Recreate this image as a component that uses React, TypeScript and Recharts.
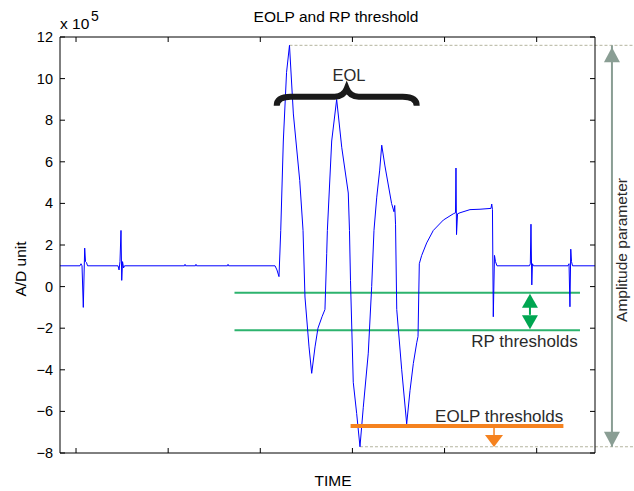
import React from "react";
import { ComposedChart, Line, XAxis, YAxis, ReferenceLine, ReferenceDot } from "recharts";

const FONT = "'Liberation Sans', Arial, Helvetica, sans-serif";
const BLUE = "#0000ff";
const GREEN_LINE = "#2db36e";
const GREEN_ARROW = "#00a651";
const ORANGE = "#f5821f";
const GRAY_ARROW = "#8a9e94";
const DASH = "#b5b59f";

// time (sample) and A/D value (x 10^5)
const TIME = [
  -17.4, 4.3, 5.4, 6.5, 7.9, 9.4, 10.3, 11.4, 12.5,
  45.6, 46.7, 47.7, 48.8, 49.6, 50.5, 51.6, 52.6,
  117.8, 118.3, 118.8, 129.7, 130.2, 130.7, 164.5, 165.0, 165.5,
  216.0, 218.1, 220.3, 222.2, 225.0, 228.5, 231.7, 235.9, 242.8, 246.4,
  248.5, 252.9, 255.8, 259.4, 262.6, 267.0, 270.2, 272.1, 272.8, 277.5,
  282.9, 288.4, 295.5, 296.8, 297.9, 300.9, 304.6, 308.2, 311.8, 317.2,
  320.9, 323.4, 326.4, 329.6, 331.8, 335.3, 342.5, 345.1, 345.9, 346.8,
  348.1, 353.5, 358.9, 362.5, 366.1, 369.8, 371.2, 372.6, 375.2, 380.6,
  387.8, 398.7, 409.5, 411.9, 412.4, 413.0, 414.1, 416.8, 427.6, 438.5,
  450.4, 451.2, 452.0, 452.9, 454.2, 455.3, 456.9,
  492.2, 493.1, 493.8, 494.7, 495.4, 496.5,
  534.0, 535.1, 536.1, 537.0, 537.8, 538.9, 563.3,
];
const SIGNAL = [
  1.0, 1.0, 1.1, 1.0, -1.0, 1.85, 1.2, 1.15, 1.0,
  1.0, 0.8, 1.2, 2.7, 0.3, 1.2, 0.9, 1.0,
  1.0, 1.07, 1.0, 1.0, 1.07, 1.0, 1.0, 1.07, 1.0,
  1.0, 0.8, 0.48, 2.7, 7.0, 10.3, 11.6, 8.3, 5.1, 2.7,
  -0.5, -2.9, -4.17, -2.9, -2.0, -1.45, -1.1, 1.6, 2.7, 7.0,
  9.0, 6.7, 4.5, 2.7, 0.3, -4.6, -6.1, -7.7, -5.8, -3.2,
  0.0, 2.7, 4.3, 5.6, 6.8, 5.8, 4.0, 3.6, 3.9, 3.0,
  -1.1, -4.0, -6.6, -5.0, -3.7, -2.7, -2.4, 1.1, 1.5, 2.1,
  2.7, 3.2, 3.5, 3.55, 5.7, 2.5, 3.5, 3.55, 3.7, 3.72,
  3.76, 3.97, 3.7, -1.45, 1.5, 1.2, 1.0,
  1.0, 1.1, 3.0, 0.08, 1.1, 1.0,
  1.0, 1.1, -0.97, 1.8, 1.2, 1.0, 1.0,
];

const X_TICKS = [0, 100, 200, 300, 400, 500];
const Y_TICKS = [-8, -6, -4, -2, 0, 2, 4, 6, 8, 10, 12];
const X_DOMAIN = [-17.4, 563.3];
const Y_DOMAIN = [-8, 12];

// thresholds
const RP_UPPER = -0.3;
const RP_LOWER = -2.1;
const RP_START = 172;
const RP_END = 547;
const EOLP_LEVEL = -6.7;
const EOLP_START = 298;
const EOLP_END = 529;
const RP_ARROW_T = 492.7;
const EOLP_ARROW_T = 453.7;
const AMP_T = 581.7;
const DASH_END = 605.6;

const data = TIME.map((t, i) => ({ t, v: SIGNAL[i] }));
const maxIdx = SIGNAL.indexOf(Math.max(...SIGNAL));
const minIdx = SIGNAL.indexOf(Math.min(...SIGNAL));
const MAX_V = SIGNAL[maxIdx];
const MIN_V = SIGNAL[minIdx];

const fmt = (v: number) => (v < 0 ? `\u2212${Math.abs(v)}` : `${v}`);

const LeftTick = (p: any) => (
  <g>
    <line x1={p.x} y1={p.y} x2={p.x + 5} y2={p.y} stroke="#000" />
    <text x={p.x - 7} y={p.y + 5} textAnchor="end" fontSize={14.5} fontFamily={FONT} fill="#000">
      {fmt(p.payload.value)}
    </text>
  </g>
);
const RightTick = (p: any) => <line x1={p.x} y1={p.y} x2={p.x - 5} y2={p.y} stroke="#000" />;
const BottomTick = (p: any) => <line x1={p.x} y1={p.y} x2={p.x} y2={p.y - 5} stroke="#000" />;
const TopTick = (p: any) => <line x1={p.x} y1={p.y} x2={p.x} y2={p.y + 5} stroke="#000" />;

const TriUp = ({ cx, cy, color, w = 8, h = 15 }: any) => (
  <path d={`M${cx},${cy} L${cx + w},${cy + h} L${cx - w},${cy + h} Z`} fill={color} />
);
const TriDown = ({ cx, cy, color, w = 8, h = 15 }: any) => (
  <path d={`M${cx},${cy} L${cx + w},${cy - h} L${cx - w},${cy - h} Z`} fill={color} />
);

const Label = ({ cx, cy, text, anchor = "middle", size = 17, rotate = 0 }: any) => (
  <text
    x={cx}
    y={cy}
    textAnchor={anchor}
    fontSize={size}
    fontFamily={FONT}
    fill="#2a2a2a"
    transform={rotate ? `rotate(${rotate} ${cx} ${cy})` : undefined}
    dominantBaseline={rotate ? "central" : undefined}
  >
    {text}
  </text>
);

const Brace = ({ cx, cy }: any) => (
  <path
    d={`M${cx - 70},${cy + 9} C${cx - 70},${cy + 2} ${cx - 64},${cy} ${cx - 56},${cy} L${cx - 12},${cy} C${cx - 5},${cy} ${cx - 2},${cy - 3} ${cx},${cy - 8} C${cx + 2},${cy - 3} ${cx + 5},${cy} ${cx + 12},${cy} L${cx + 56},${cy} C${cx + 64},${cy} ${cx + 70},${cy + 2} ${cx + 70},${cy + 9}`}
    fill="none"
    stroke="#1a1a1a"
    strokeWidth={6}
  />
);

const ids = { xAxisId: "b", yAxisId: "l" } as const;

export default function App() {
  return (
    <div style={{ position: "absolute", left: 0, top: 0, width: 634, height: 491, background: "#fff" }}>
      <ComposedChart width={634} height={491} data={data} margin={{ top: 0, right: 0, bottom: 0, left: 0 }}>
        <XAxis xAxisId="b" dataKey="t" type="number" domain={X_DOMAIN} ticks={X_TICKS} allowDataOverflow
          orientation="bottom" height={38} tickSize={0} tickMargin={0} tickLine={false} tick={<BottomTick />}
          axisLine={{ stroke: "#000" }} />
        <XAxis xAxisId="top" dataKey="t" type="number" domain={X_DOMAIN} ticks={X_TICKS} allowDataOverflow
          orientation="top" height={37} tickSize={0} tickMargin={0} tickLine={false} tick={<TopTick />}
          axisLine={{ stroke: "#000" }} />
        <YAxis yAxisId="l" type="number" domain={Y_DOMAIN} ticks={Y_TICKS} allowDataOverflow width={60}
          tickSize={0} tickMargin={0} tickLine={false} tick={<LeftTick />} axisLine={{ stroke: "#000" }} />
        <YAxis yAxisId="r" orientation="right" type="number" domain={Y_DOMAIN} ticks={Y_TICKS} allowDataOverflow
          width={39} tickSize={0} tickMargin={0} tickLine={false} tick={<RightTick />} axisLine={{ stroke: "#000" }} />

        {/* amplitude dashed guides */}
        <ReferenceLine {...ids} ifOverflow="visible" stroke={DASH} strokeDasharray="3 2"
          segment={[{ x: TIME[maxIdx], y: MAX_V }, { x: DASH_END, y: MAX_V }]} />
        <ReferenceLine {...ids} ifOverflow="visible" stroke={DASH} strokeDasharray="3 2"
          segment={[{ x: TIME[minIdx], y: MIN_V }, { x: DASH_END, y: MIN_V }]} />

        {/* thresholds */}
        <ReferenceLine {...ids} stroke={GREEN_LINE} strokeWidth={2}
          segment={[{ x: RP_START, y: RP_UPPER }, { x: RP_END, y: RP_UPPER }]} />
        <ReferenceLine {...ids} stroke={GREEN_LINE} strokeWidth={2}
          segment={[{ x: RP_START, y: RP_LOWER }, { x: RP_END, y: RP_LOWER }]} />

        <Line {...ids} type="linear" dataKey="v" stroke={BLUE} strokeWidth={1} dot={false} isAnimationActive={false} />

        <ReferenceLine {...ids} stroke={ORANGE} strokeWidth={4}
          segment={[{ x: EOLP_START, y: EOLP_LEVEL }, { x: EOLP_END, y: EOLP_LEVEL }]} />

        {/* RP double arrow */}
        <ReferenceDot {...ids} x={RP_ARROW_T} y={RP_UPPER} r={0}
          shape={(p: any) => (
            <g>
              <line x1={p.cx} y1={p.cy + 14} x2={p.cx} y2={p.cy + 22} stroke={GREEN_ARROW} strokeWidth={2} />
              <TriUp cx={p.cx} cy={p.cy + 1} color={GREEN_ARROW} h={14} />
            </g>
          )} />
        <ReferenceDot {...ids} x={RP_ARROW_T} y={RP_LOWER} r={0}
          shape={(p: any) => <TriDown cx={p.cx} cy={p.cy - 1} color={GREEN_ARROW} h={14} />} />

        {/* EOLP arrow */}
        <ReferenceDot {...ids} x={EOLP_ARROW_T} y={EOLP_LEVEL} r={0}
          shape={(p: any) => (
            <g>
              <line x1={p.cx} y1={p.cy} x2={p.cx} y2={p.cy + 10} stroke={ORANGE} strokeWidth={1.5} />
              <TriDown cx={p.cx} cy={p.cy + 21} color={ORANGE} w={9} h={12} />
            </g>
          )} />

        {/* amplitude arrow */}
        <ReferenceLine {...ids} ifOverflow="visible" stroke={GRAY_ARROW} strokeWidth={2}
          segment={[{ x: AMP_T, y: MIN_V }, { x: AMP_T, y: MAX_V }]} />
        <ReferenceDot {...ids} ifOverflow="visible" x={AMP_T} y={MAX_V} r={0}
          shape={(p: any) => <TriUp cx={p.cx} cy={p.cy + 2} color={GRAY_ARROW} />} />
        <ReferenceDot {...ids} ifOverflow="visible" x={AMP_T} y={MIN_V} r={0}
          shape={(p: any) => <TriDown cx={p.cx} cy={p.cy} color={GRAY_ARROW} />} />
        <ReferenceDot {...ids} ifOverflow="visible" x={592.3} y={1.76} r={0}
          shape={(p: any) => <Label cx={p.cx} cy={p.cy} text="Amplitude parameter" size={15.5} rotate={-90} />} />

        {/* EOL brace */}
        <ReferenceDot {...ids} x={293.8} y={9.13} r={0} shape={(p: any) => <Brace cx={p.cx} cy={p.cy} />} />
        <ReferenceDot {...ids} x={296.3} y={10.17} r={0}
          shape={(p: any) => <Label cx={p.cx} cy={p.cy + 6} text="EOL" size={16.5} />} />
        <ReferenceDot {...ids} x={544.5} y={-2.9} r={0}
          shape={(p: any) => <Label cx={p.cx} cy={p.cy} text="RP thresholds" anchor="end" />} />
        <ReferenceDot {...ids} x={528.9} y={-6.5} r={0}
          shape={(p: any) => <Label cx={p.cx} cy={p.cy} text="EOLP thresholds" anchor="end" />} />
      </ComposedChart>

      <svg width={634} height={491} style={{ position: "absolute", left: 0, top: 0, pointerEvents: "none" }}>
        <text x={336} y={22} textAnchor="middle" fontSize={15.5} fontFamily={FONT} fill="#000">
          EOLP and RP threshold
        </text>
        <text x={60} y={29} fontSize={15.5} fontFamily={FONT} fill="#000">x 10</text>
        <text x={91} y={21} fontSize={14} fontFamily={FONT} fill="#000">5</text>
        <text x={333} y={486} textAnchor="middle" fontSize={15.5} fontFamily={FONT} fill="#000">TIME</text>
        <text x={20} y={269} textAnchor="middle" dominantBaseline="central" fontSize={15.5} fontFamily={FONT}
          fill="#000" transform="rotate(-90 20 269)">A/D unit</text>
      </svg>
    </div>
  );
}
